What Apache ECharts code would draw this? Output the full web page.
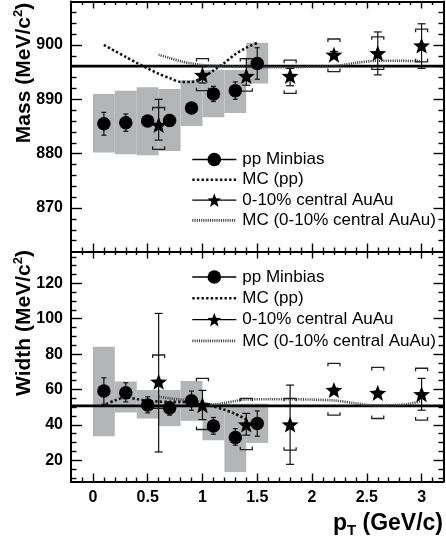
<!DOCTYPE html>
<html>
<head>
<meta charset="utf-8">
<script src="https://cdn.jsdelivr.net/npm/echarts@6/dist/echarts.min.js"></script>
<style>
  html, body { margin: 0; padding: 0; background: #fff; }
  #chart { width: 446px; height: 542px; }
</style>
</head>
<body>
<div id="chart"></div>
<script>
// K*0 mass and width versus pT: pp minimum bias vs 0-10% central Au+Au, with MC expectations

// ---- axis ranges and tick labels ----
const ptRange = [-0.2, 3.2];
const massRange = [862, 908];
const widthRange = [8, 138];
const ptTicks = [0, 0.5, 1, 1.5, 2, 2.5, 3];
const massTicks = [870, 880, 890, 900];
const widthTicks = [20, 40, 60, 80, 100, 120];

// ---- reference values (horizontal lines) ----
const refMass = 896.1;
const refWidth = 50.8;

// ---- pp minimum bias ----
const ppPt = [0.1, 0.3, 0.5, 0.7, 0.9, 1.1, 1.3, 1.5];
const ppMass = [885.5, 885.7, 886.0, 886.1, 888.4, 891.0, 891.6, 896.6];
const ppMassStatLow = [883.4, 884.1, 885.0, 885.1, 887.4, 889.6, 890.0, 893.7];
const ppMassStatHigh = [887.6, 887.3, 887.0, 887.1, 889.4, 892.4, 893.2, 899.5];
const ppMassSysLow = [880.2, 879.9, 879.7, 880.5, 885.1, 886.7, 887.5, 892.9];
const ppMassSysHigh = [891.0, 891.6, 892.2, 891.9, 893.5, 895.4, 895.4, 900.4];

const ppWidth = [59.1, 58.1, 51.2, 49.6, 53.6, 39.4, 32.9, 40.8];
const ppWidthStatLow = [51.7, 53.0, 46.8, 45.5, 48.3, 34.7, 28.5, 33.6];
const ppWidthStatHigh = [66.6, 63.8, 55.9, 53.0, 59.1, 44.2, 37.9, 47.9];
const ppWidthSysLow = [33.6, 47.0, 43.6, 39.3, 42.3, 31.3, 13.4, 29.8];
const ppWidthSysHigh = [84.2, 64.5, 59.7, 59.7, 64.8, 52.0, 52.0, 52.0];

// ---- 0-10% central Au+Au ----
const auPt = [0.6, 1.0, 1.4, 1.8, 2.2, 2.6, 3.0];
const auMass = [885.3, 894.5, 894.3, 894.3, 898.2, 898.5, 899.9];
const auMassStatLow = [882.5, 893.0, 892.6, 892.5, 897.6, 894.5, 895.7];
const auMassStatHigh = [890.0, 896.0, 897.5, 895.7, 898.8, 902.4, 903.9];
const auMassSysLow = [880.8, 891.6, 891.5, 891.1, 895.1, 895.5, 896.9];
const auMassSysHigh = [888.5, 897.5, 897.5, 897.2, 901.1, 901.5, 902.9];

const auWidth = [64.4, 51.2, 40.2, 40.2, 59.7, 58.1, 57.4];
const auWidthStatLow = [24.7, 43.0, 34.2, 17.7, 58.7, 57.1, 48.3];
const auWidthStatHigh = [103.0, 59.5, 46.5, 62.5, 60.7, 59.1, 66.3];
const auWidthSysLow = [49.4, 37.4, 26.0, 25.7, 45.5, 43.6, 42.7];
const auWidthSysHigh = [79.5, 66.3, 55.0, 55.0, 74.8, 72.5, 72.0];

// ---- MC curves ----
const mcPpMassPt = [0.1, 0.2, 0.3, 0.4, 0.5, 0.6, 0.7, 0.8, 0.9, 1.0, 1.1, 1.2, 1.3, 1.4, 1.5];
const mcPpMass = [900.0, 898.9, 897.8, 896.7, 895.7, 894.7, 893.9, 893.2, 893.2, 894.0, 895.3, 896.7, 898.3, 899.5, 900.4];
const mcAuMassPt = [0.6, 0.7, 0.8, 0.9, 1.0, 1.2, 1.4, 1.6, 1.8, 2.0, 2.2, 2.4, 2.6, 2.8, 3.0];
const mcAuMass = [898.2, 897.6, 897.0, 896.6, 896.3, 896.1, 896.0, 895.9, 895.9, 896.0, 896.1, 896.7, 897.1, 897.1, 897.0];

const mcPpWidthPt = [0.12, 0.2, 0.3, 0.4, 0.5, 0.6, 0.7, 0.8, 0.9, 1.0, 1.1, 1.2, 1.3, 1.4];
const mcPpWidth = [51.7, 53.8, 55.6, 54.6, 53.6, 53.2, 53.0, 53.0, 52.6, 51.8, 50.4, 48.6, 46.2, 43.2];
const mcAuWidthPt = [0.6, 0.7, 0.8, 0.9, 1.0, 1.1, 1.2, 1.3, 1.4, 1.6, 1.8, 2.0, 2.2, 2.4, 2.5, 2.6, 2.8, 2.9, 3.0];
const mcAuWidth = [55.9, 55.0, 54.3, 53.8, 52.6, 51.5, 52.4, 53.5, 54.4, 54.5, 54.5, 54.3, 53.8, 52.2, 51.3, 51.0, 51.3, 52.0, 53.6];

const NAME_PP = 'pp Minbias';
const NAME_MCPP = 'MC (pp)';
const NAME_AU = '0-10% central AuAu';
const NAME_MCAU = 'MC (0-10% central AuAu)';

// ---- styling ----
const FONT = "'Liberation Sans', Arial, Helvetica, sans-serif";
const BIN_HALF = 0.1;           // half width of the systematic boxes in pT
const BOX_COLOR = '#b4b5b7';
const STAR = 'path://M0,-10 L2.47,-3.40 L9.51,-3.09 L3.99,1.30 L5.88,8.09 L0,4.2 L-5.88,8.09 L-3.99,1.30 L-9.51,-3.09 L-2.47,-3.40 Z';
const MCPP_LINE = { color: '#111', width: 2.6, type: [2.4, 2.2] };
const MCAU_LINE = { color: '#444', width: 2.6, type: [1.1, 1.1] };

// minor tick positions
const ptMinor = [];
for (let i = -1; i <= 31; i++) if (i % 5 !== 0) ptMinor.push(i / 10);
const massMinor = [];
for (let v = 864; v <= 906; v += 2) if (v % 10 !== 0) massMinor.push(v);
const widthMinor = [];
for (let v = 10; v <= 135; v += 5) if (v % 20 !== 0) widthMinor.push(v);

const frameLine = { show: true, onZero: false, lineStyle: { color: '#000', width: 2 } };
const noLine = { show: false, onZero: false };
const tickLabel = { color: '#000', fontSize: 16, fontWeight: 'bold', fontFamily: FONT };

function xAxes(grid, withLabels) {
  const base = { type: 'value', gridIndex: grid, min: ptRange[0], max: ptRange[1], splitLine: { show: false } };
  const tick = (vals, len) => ({ show: true, inside: true, length: len, customValues: vals, lineStyle: { color: '#000', width: 1.4 } });
  return [
    Object.assign({}, base, { position: 'bottom', axisLine: frameLine, axisTick: tick(ptTicks, 8),
      axisLabel: Object.assign({ show: withLabels, customValues: ptTicks, margin: 8 }, tickLabel) }),
    Object.assign({}, base, { position: 'bottom', axisLine: noLine, axisTick: tick(ptMinor, 4), axisLabel: { show: false } }),
    Object.assign({}, base, { position: 'top', axisLine: frameLine, axisTick: tick(ptTicks, 7), axisLabel: { show: false } }),
    Object.assign({}, base, { position: 'top', axisLine: noLine, axisTick: tick(ptMinor, 3.5), axisLabel: { show: false } })
  ];
}

function yAxes(grid, range, major, minor) {
  const base = { type: 'value', gridIndex: grid, min: range[0], max: range[1], splitLine: { show: false } };
  const tick = (vals, len) => ({ show: true, inside: true, length: len, customValues: vals, lineStyle: { color: '#000', width: 1.4 } });
  return [
    Object.assign({}, base, { position: 'left', axisLine: frameLine, axisTick: tick(major, 11),
      axisLabel: Object.assign({ show: true, customValues: major, margin: 8 }, tickLabel) }),
    Object.assign({}, base, { position: 'left', axisLine: noLine, axisTick: tick(minor, 5.5), axisLabel: { show: false } }),
    Object.assign({}, base, { position: 'right', axisLine: frameLine, axisTick: tick(major, 10), axisLabel: { show: false } }),
    Object.assign({}, base, { position: 'right', axisLine: noLine, axisTick: tick(minor, 5), axisLabel: { show: false } })
  ];
}

function zip3(xs, a, b) { return xs.map((x, i) => [x, a[i], b[i]]); }
function zip2(xs, a) { return xs.map((x, i) => [x, a[i]]); }

// grey systematic boxes
function boxSeries(ax, xs, lo, hi) {
  return {
    type: 'custom', xAxisIndex: ax, yAxisIndex: ax, z: 1, silent: true,
    data: zip3(xs, lo, hi), encode: { x: 0, y: [1, 2] },
    renderItem(params, api) {
      const x = api.value(0);
      const a = api.coord([x - BIN_HALF, api.value(2)]);
      const b = api.coord([x + BIN_HALF, api.value(1)]);
      return { type: 'rect', shape: { x: a[0], y: a[1], width: b[0] - a[0], height: b[1] - a[1] }, style: { fill: BOX_COLOR } };
    }
  };
}

// statistical error bars with caps
function statSeries(ax, xs, lo, hi, capHalf) {
  return {
    type: 'custom', xAxisIndex: ax, yAxisIndex: ax, z: 5, silent: true,
    data: zip3(xs, lo, hi), encode: { x: 0, y: [1, 2] },
    renderItem(params, api) {
      const x = api.value(0);
      const t = api.coord([x, api.value(2)]);
      const b = api.coord([x, api.value(1)]);
      const st = () => ({ stroke: '#111', lineWidth: 1.2 });
      return { type: 'group', children: [
        { type: 'line', shape: { x1: t[0], y1: t[1], x2: b[0], y2: b[1] }, style: st() },
        { type: 'line', shape: { x1: t[0] - capHalf, y1: t[1], x2: t[0] + capHalf, y2: t[1] }, style: st() },
        { type: 'line', shape: { x1: b[0] - capHalf, y1: b[1], x2: b[0] + capHalf, y2: b[1] }, style: st() }
      ] };
    }
  };
}

// systematic brackets for Au+Au
function bracketSeries(ax, xs, lo, hi) {
  return {
    type: 'custom', xAxisIndex: ax, yAxisIndex: ax, z: 4, silent: true,
    data: zip3(xs, lo, hi), encode: { x: 0, y: [1, 2] },
    renderItem(params, api) {
      const x = api.value(0);
      const t = api.coord([x, api.value(2)]);
      const b = api.coord([x, api.value(1)]);
      const w = 6, h = 3;
      const st = () => ({ stroke: '#222', lineWidth: 1.3, fill: null });
      return { type: 'group', children: [
        { type: 'polyline', shape: { points: [[t[0] - w, t[1] + h], [t[0] - w, t[1]], [t[0] + w, t[1]], [t[0] + w, t[1] + h]] }, style: st() },
        { type: 'polyline', shape: { points: [[b[0] - w, b[1] - h], [b[0] - w, b[1]], [b[0] + w, b[1]], [b[0] + w, b[1] - h]] }, style: st() }
      ] };
    }
  };
}

function refLine(ax, value) {
  return {
    type: 'line', xAxisIndex: ax, yAxisIndex: ax, z: 2, silent: true, symbol: 'none',
    data: [[ptRange[0], value], [ptRange[1], value]],
    lineStyle: { color: '#000', width: 2.8 }
  };
}

function mcSeries(ax, name, xs, ys, style) {
  return {
    type: 'line', name, xAxisIndex: ax, yAxisIndex: ax, z: 3, silent: true, symbol: 'none',
    smooth: 0.3, data: zip2(xs, ys), itemStyle: { color: style.color }, lineStyle: Object.assign({}, style)
  };
}

function markerSeries(ax, name, xs, ys, symbol, size) {
  return {
    type: 'line', name, xAxisIndex: ax, yAxisIndex: ax, z: 6, silent: true,
    symbol, symbolSize: size, symbolKeepAspect: true, showSymbol: true,
    data: zip2(xs, ys), itemStyle: { color: '#000', opacity: 1 },
    lineStyle: { width: 0, opacity: 0 }
  };
}

function panelSeries(ax, d) {
  return [
    boxSeries(ax, ppPt, d.ppSysLo, d.ppSysHi),
    refLine(ax, d.ref),
    mcSeries(ax, NAME_MCPP, d.mcPpX, d.mcPpY, MCPP_LINE),
    mcSeries(ax, NAME_MCAU, d.mcAuX, d.mcAuY, MCAU_LINE),
    bracketSeries(ax, auPt, d.auSysLo, d.auSysHi),
    statSeries(ax, ppPt, d.ppStatLo, d.ppStatHi, 2.5),
    statSeries(ax, auPt, d.auStatLo, d.auStatHi, 4),
    markerSeries(ax, NAME_PP, ppPt, d.pp, 'circle', 13.5),
    markerSeries(ax, NAME_AU, auPt, d.au, STAR, 17)
  ];
}

const legendItems = [
  { name: NAME_PP, lineStyle: { color: '#000', width: 1.3, type: 'solid', opacity: 1 }, itemStyle: { color: '#000', opacity: 1 } },
  { name: NAME_MCPP, lineStyle: { color: MCPP_LINE.color, width: MCPP_LINE.width, type: MCPP_LINE.type, opacity: 1 }, itemStyle: { opacity: 0 } },
  { name: NAME_AU, lineStyle: { color: '#000', width: 1.3, type: 'solid', opacity: 1 }, itemStyle: { color: '#000', opacity: 1 } },
  { name: NAME_MCAU, lineStyle: { color: MCAU_LINE.color, width: MCAU_LINE.width, type: MCAU_LINE.type, opacity: 1 }, itemStyle: { opacity: 0 } }
];
function legendAt(top, gap) {
  return {
    orient: 'vertical', left: 191, top, padding: 0, itemGap: gap, itemWidth: 44, itemHeight: 17,
    selectedMode: false, data: legendItems,
    textStyle: { color: '#000', fontSize: 17, fontFamily: FONT, padding: [0, 0, 0, 1] }
  };
}

const chart = echarts.init(document.getElementById('chart'), null, { renderer: 'canvas' });
chart.setOption({
  animation: false,
  backgroundColor: '#fff',
  grid: [
    { left: 71, top: 1.5, width: 372.5, height: 250, outerBoundsMode: 'none' },
    { left: 71, top: 251.5, width: 372.5, height: 230, outerBoundsMode: 'none' }
  ],
  xAxis: [].concat(xAxes(0, false), xAxes(1, true)),
  yAxis: [].concat(yAxes(0, massRange, massTicks, massMinor), yAxes(1, widthRange, widthTicks, widthMinor)),
  legend: [legendAt(151, 3.3), legendAt(268.5, 4.3)],
  series: [].concat(
    panelSeries(0, {
      ppSysLo: ppMassSysLow, ppSysHi: ppMassSysHigh, ref: refMass,
      mcPpX: mcPpMassPt, mcPpY: mcPpMass, mcAuX: mcAuMassPt, mcAuY: mcAuMass,
      auSysLo: auMassSysLow, auSysHi: auMassSysHigh,
      ppStatLo: ppMassStatLow, ppStatHi: ppMassStatHigh,
      auStatLo: auMassStatLow, auStatHi: auMassStatHigh,
      pp: ppMass, au: auMass
    }),
    panelSeries(4, {
      ppSysLo: ppWidthSysLow, ppSysHi: ppWidthSysHigh, ref: refWidth,
      mcPpX: mcPpWidthPt, mcPpY: mcPpWidth, mcAuX: mcAuWidthPt, mcAuY: mcAuWidth,
      auSysLo: auWidthSysLow, auSysHi: auWidthSysHigh,
      ppStatLo: ppWidthStatLow, ppStatHi: ppWidthStatHigh,
      auStatLo: auWidthStatLow, auStatHi: auWidthStatHigh,
      pp: ppWidth, au: auWidth
    })
  ),
  graphic: [
    { type: 'text', x: 24, y: 73, rotation: Math.PI / 2, silent: true,
      style: { text: 'Mass (MeV/c{s|2})', fill: '#000', fontSize: 21, fontWeight: 'bold', fontFamily: FONT,
        lineHeight: 24, align: 'center', verticalAlign: 'middle', textAlign: 'center', textVerticalAlign: 'middle',
        rich: { s: { fontSize: 13, fontWeight: 'bold', fontFamily: FONT, lineHeight: 13, verticalAlign: 'top', fill: '#000' } } } },
    { type: 'text', x: 24, y: 323, rotation: Math.PI / 2, silent: true,
      style: { text: 'Width (MeV/c{s|2})', fill: '#000', fontSize: 21, fontWeight: 'bold', fontFamily: FONT,
        lineHeight: 24, align: 'center', verticalAlign: 'middle', textAlign: 'center', textVerticalAlign: 'middle',
        rich: { s: { fontSize: 13, fontWeight: 'bold', fontFamily: FONT, lineHeight: 13, verticalAlign: 'top', fill: '#000' } } } },
    { type: 'text', x: 443, y: 524, silent: true,
      style: { text: 'p{t|T} (GeV/c)', fill: '#000', fontSize: 23, fontWeight: 'bold', fontFamily: FONT,
        lineHeight: 28, align: 'right', verticalAlign: 'middle', textAlign: 'right', textVerticalAlign: 'middle',
        rich: { t: { fontSize: 15, fontWeight: 'bold', fontFamily: FONT, lineHeight: 12, verticalAlign: 'bottom', fill: '#000' } } } }
  ]
});
</script>
</body>
</html>
